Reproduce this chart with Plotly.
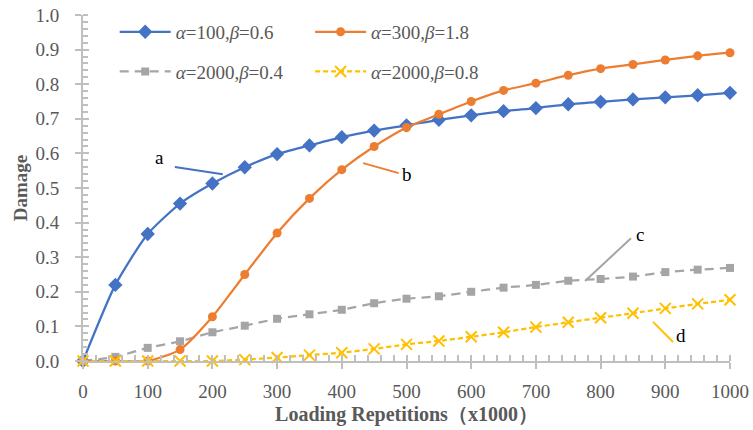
import plotly.graph_objects as go

reps = [0, 50, 100, 150, 200, 250, 300, 350, 400, 450, 500, 550, 600, 650, 700, 750, 800, 850, 900, 950, 1000]
dmg_a = [0.0, 0.220, 0.367, 0.455, 0.513, 0.560, 0.598, 0.623, 0.647, 0.666, 0.681, 0.697, 0.710, 0.722, 0.731, 0.742, 0.749, 0.756, 0.762, 0.768, 0.775]
dmg_b = [0.0, 0.0, 0.0, 0.033, 0.128, 0.250, 0.370, 0.470, 0.553, 0.620, 0.675, 0.713, 0.750, 0.782, 0.803, 0.826, 0.845, 0.857, 0.870, 0.882, 0.891]
dmg_c = [0.0, 0.012, 0.038, 0.057, 0.083, 0.102, 0.122, 0.135, 0.148, 0.167, 0.180, 0.187, 0.200, 0.212, 0.220, 0.232, 0.237, 0.244, 0.257, 0.264, 0.269]
dmg_d = [0.0, 0.0, 0.0, 0.0, 0.0, 0.004, 0.010, 0.017, 0.024, 0.035, 0.048, 0.058, 0.070, 0.083, 0.098, 0.112, 0.125, 0.138, 0.152, 0.165, 0.177]

names = ["<i>α</i>=100,<i>β</i>=0.6", "<i>α</i>=300,<i>β</i>=1.8",
         "<i>α</i>=2000,<i>β</i>=0.4", "<i>α</i>=2000,<i>β</i>=0.8"]
labels = ["a", "b", "c", "d"]
label_pos = [(119, 0.587), (501, 0.538), (861, 0.367), (924, 0.075)]
leader_lines = [((142, 0.561), (216, 0.540)), ((433, 0.572), (488, 0.543)),
                ((847, 0.355), (776, 0.231)), ((881, 0.113), (912, 0.055))]

colors = ["#4472C4", "#ED7D31", "#A5A5A5", "#FFC000"]
AX = "#BFBFBF"
TXT = "#595959"
SERIF = "Liberation Serif"

fig = go.Figure()
fig.add_trace(go.Scatter(x=reps, y=dmg_a, name=names[0], mode="lines+markers",
                         line=dict(color=colors[0], width=2.25, shape="spline", smoothing=0.6),
                         marker=dict(symbol="diamond", size=11, color=colors[0]),
                         cliponaxis=False, legend="legend", legendgroup="g1"))
fig.add_trace(go.Scatter(x=reps, y=dmg_c, name=names[2], mode="lines+markers",
                         line=dict(color=colors[2], width=2.25, shape="spline", smoothing=0.6, dash="9px,6px"),
                         marker=dict(symbol="square", size=8, color=colors[2]),
                         cliponaxis=False, legend="legend", legendgroup="g3"))
fig.add_trace(go.Scatter(x=reps, y=dmg_b, name=names[1], mode="lines+markers",
                         line=dict(color=colors[1], width=2.25, shape="spline", smoothing=0.6),
                         marker=dict(symbol="circle", size=9, color=colors[1]),
                         cliponaxis=False, legend="legend2", legendgroup="g2"))
fig.add_trace(go.Scatter(x=reps, y=dmg_d, name=names[3], mode="lines+markers",
                         line=dict(color=colors[3], width=2.25, shape="spline", smoothing=0.6, dash="5px,3px"),
                         marker=dict(symbol="x-thin", size=11, color=colors[3],
                                     line=dict(color=colors[3], width=2)),
                         cliponaxis=False, legend="legend2", legendgroup="g4"))
# invisible helper trace for overlay axes (inside half of crossing major ticks)
fig.add_trace(go.Scatter(x=[], y=[], xaxis="x2", yaxis="y2", showlegend=False, hoverinfo="skip"))

for i, ((x0, y0), (x1, y1)) in enumerate(leader_lines):
    fig.add_shape(type="line", x0=x0, y0=y0, x1=x1, y1=y1, xref="x", yref="y",
                  line=dict(color=colors[i], width=2))
for lab, (lx, ly) in zip(labels, label_pos):
    fig.add_annotation(x=lx, y=ly, text=lab, showarrow=False, xref="x", yref="y",
                       font=dict(family=SERIF, size=19, color="black"))

axis_common = dict(showgrid=False, zeroline=False, showline=True, linecolor=AX, linewidth=2,
                   ticks="outside", ticklen=6, tickcolor=AX, tickwidth=2, automargin=False,
                   tickfont=dict(family=SERIF, size=19, color=TXT))
fig.update_layout(
    width=753, height=430,
    margin=dict(l=83, r=23, t=15, b=69),
    paper_bgcolor="white", plot_bgcolor="white",
    xaxis=dict(range=[0, 1000], tickvals=list(range(0, 1001, 100)),
               minor=dict(ticks="inside", ticklen=6, tickcolor=AX, tickwidth=1.5, dtick=20, tick0=0),
               title=dict(text="<b>Loading Repetitions（x1000）</b>",
                          font=dict(family=SERIF, size=20, color=TXT), standoff=6),
               ticklabelstandoff=6, **axis_common),
    yaxis=dict(range=[0, 1.0], tickvals=[i / 10 for i in range(11)], tickformat=".1f",
               minor=dict(ticks="inside", ticklen=5, tickcolor=AX, tickwidth=1.5, dtick=0.02, tick0=0),
               title=dict(text="<b>Damage</b>", font=dict(family=SERIF, size=19, color=TXT), standoff=3),
               ticklabelstandoff=12, **axis_common),
    xaxis2=dict(overlaying="x", matches="x", anchor="y2", side="bottom", showgrid=False, zeroline=False,
                showline=False, showticklabels=False, ticks="inside", ticklen=6, tickcolor=AX, tickwidth=2,
                tickvals=list(range(0, 1001, 100)), range=[0, 1000], automargin=False),
    yaxis2=dict(overlaying="y", matches="y", anchor="x2", side="left", showgrid=False, zeroline=False,
                showline=False, showticklabels=False, ticks="inside", ticklen=6, tickcolor=AX, tickwidth=2,
                tickvals=[i / 10 for i in range(11)], range=[0, 1.0], automargin=False),
    legend=dict(x=0.049, y=1.006, xanchor="left", yanchor="top", bgcolor="rgba(0,0,0,0)", itemwidth=51,
                font=dict(family=SERIF, size=19, color=TXT), tracegroupgap=12, traceorder="grouped"),
    legend2=dict(x=0.351, y=1.006, xanchor="left", yanchor="top", bgcolor="rgba(0,0,0,0)", itemwidth=51,
                 font=dict(family=SERIF, size=19, color=TXT), tracegroupgap=12, traceorder="grouped"),
    showlegend=True,
)
fig.write_html("out.html")
